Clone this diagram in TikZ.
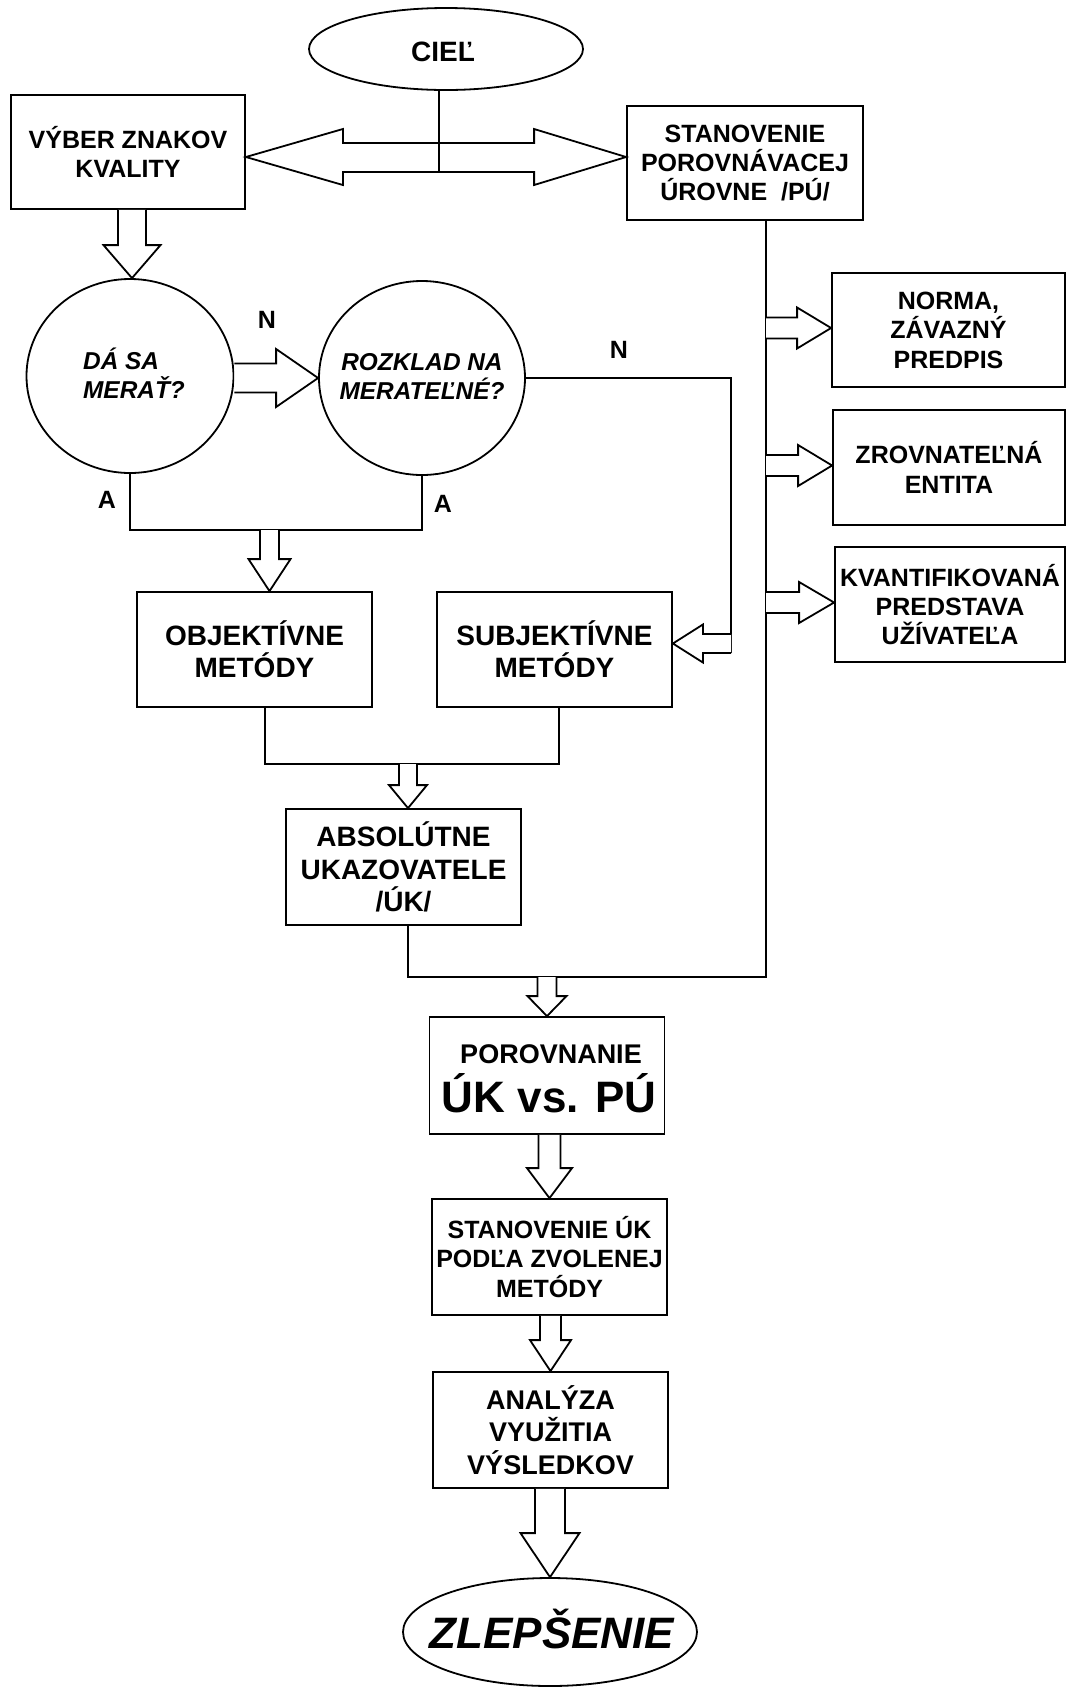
\documentclass[tikz,border=0pt]{standalone}
\usepackage{fontspec}
\setmainfont{Liberation Sans}
\usetikzlibrary{shapes.geometric,calc}

\tikzset{
  box/.style={draw, line width=0.9pt, fill=white, inner sep=0pt, align=center,
    minimum width=117.5pt, minimum height=57.5pt,
    font=\fontsize{12.5}{14.7}\selectfont\bfseries},
  bigbox/.style={box, font=\fontsize{14}{16.2}\selectfont\bfseries},
  oval/.style={draw, ellipse, line width=0.9pt, inner sep=0pt},
  qtext/.style={inner sep=0pt, font=\fontsize{12.2}{14.5}\selectfont\bfseries\itshape},
  wire/.style={line width=0.9pt},
  blk/.style={draw, fill=white, line width=0.9pt, line join=miter},
  lbl/.style={inner sep=0pt, font=\fontsize{12.5}{14}\selectfont\bfseries},
}

% hollow block arrows: #1 start, #2 tip, #3 shaft half width, #4 head half width, #5 head length
\newcommand\blockdown[5]{\draw[blk] let \p1=#1, \p2=#2 in
  (\x2-#3,\y1) -- (\x2-#3,\y2+#5) -- (\x2-#4,\y2+#5) -- (\x2,\y2)
  -- (\x2+#4,\y2+#5) -- (\x2+#3,\y2+#5) -- (\x2+#3,\y1);}
\newcommand\blockright[5]{\draw[blk] let \p1=#1, \p2=#2 in
  (\x1,\y2+#3) -- (\x2-#5,\y2+#3) -- (\x2-#5,\y2+#4) -- (\x2,\y2)
  -- (\x2-#5,\y2-#4) -- (\x2-#5,\y2-#3) -- (\x1,\y2-#3);}
\newcommand\blockleft[5]{\draw[blk] let \p1=#1, \p2=#2 in
  (\x1,\y2+#3) -- (\x2+#5,\y2+#3) -- (\x2+#5,\y2+#4) -- (\x2,\y2)
  -- (\x2+#5,\y2-#4) -- (\x2+#5,\y2-#3) -- (\x1,\y2-#3);}

\begin{document}
\begin{tikzpicture}[x=0.5pt,y=-0.5pt]
\useasboundingbox (0,0) rectangle (1067,1688);

% ---------- nodes ----------
\node[oval, minimum width=137pt, minimum height=41pt] (ciel) at (446,49) {};
\node[lbl, anchor=base, font=\fontsize{14}{16}\selectfont\bfseries] (cieltext) at (443,61) {CIEĽ};

\node[box, minimum width=117pt, minimum height=57pt] (vyber) at (128,152) {VÝBER ZNAKOV\\KVALITY};
\node[box, minimum width=118pt, minimum height=57pt] (stan) at (745,163) {STANOVENIE\\POROVNÁVACEJ\\ÚROVNE\ \ /PÚ/};

\node[box, minimum width=116.5pt, minimum height=57pt] (norma) at (948.5,330) {NORMA,\\ZÁVAZNÝ\\PREDPIS};
\node[box, minimum width=116pt] (zrov) at (949,467.5) {ZROVNATEĽNÁ\\ENTITA};
\node[box, minimum width=115pt] (kvant) at (950,604.5) {KVANTIFIKOVANÁ\\PREDSTAVA\\UŽÍVATEĽA};

\node[oval, minimum width=103.5pt, minimum height=97pt] (c1) at (130,376) {};
\node[qtext, align=left] (c1text) at ($(c1)+(4,-3)$) {DÁ SA\\MERAŤ?};
\node[oval, minimum width=103pt, minimum height=97pt] (c2) at (422,378) {};
\node[qtext, align=center] (c2text) at ($(c2)+(0,-2)$) {ROZKLAD NA\\MERATEĽNÉ?};

\node[bigbox] (obj) at (254.5,649.5) {OBJEKTÍVNE\\METÓDY};
\node[bigbox] (subj) at (554.5,649.5) {SUBJEKTÍVNE\\METÓDY};
\node[bigbox, minimum height=58pt] (abs) at (403.5,867) {ABSOLÚTNE\\UKAZOVATELE\\/ÚK/};

\node[box, minimum height=58.5pt] (porov) at (547,1075.5) {};
\node[lbl, anchor=base, font=\fontsize{13.5}{15}\selectfont\bfseries] (porovtop) at (551,1063) {POROVNANIE};
\node[lbl, anchor=base, font=\fontsize{22}{24}\selectfont\bfseries] (porovbig) at (549,1112) {ÚK vs. PÚ};

\node[box, minimum height=58pt] (stanuk) at (549.5,1257) {STANOVENIE ÚK\\PODĽA ZVOLENEJ\\METÓDY};
\node[box, minimum height=58pt, font=\fontsize{13.5}{16.3}\selectfont\bfseries] (analyza) at (550.5,1430) {ANALÝZA\\VYUŽITIA\\VÝSLEDKOV};

\node[oval, minimum width=147pt, minimum height=54pt] (zlep) at (550,1632) {};
\node[lbl, anchor=base, font=\fontsize{22}{24}\selectfont\bfseries\itshape] (zleptext) at (552,1648) {ZLEPŠENIE};

\node[lbl] (n1) at (267,320) {N};
\node[lbl] (n2) at (619,350) {N};
\node[lbl] (a1) at (107,500) {A};
\node[lbl] (a2) at (443,504) {A};

% ---------- helper coordinates ----------
\coordinate (ymid) at (0,157);
\coordinate (ybot) at (0,172);
\coordinate (dl) at (vyber.east |- ymid);
\coordinate (dr) at (stan.west |- ymid);
\coordinate (cieldrop) at ($(ciel.south)+(-7,0)$);
\coordinate (jA) at (0,530);
\coordinate (nx) at (731,376);
\coordinate (ntip) at ($(subj.east)+(0,-6)$);
\coordinate (nlow) at ($(ntip)+(0,9.5)$);
\coordinate (jB) at (0,764);
\coordinate (objdrop) at ($(obj.south)+(10.5,0)$);
\coordinate (subjdrop) at ($(subj.south)+(4.5,0)$);
\coordinate (absdrop) at ($(abs.south)+(4.5,0)$);
\coordinate (trunk) at ($(stan.south)+(21,0)$);
\coordinate (jC) at (0,977);

% ---------- goal splits both ways ----------
\draw[blk] let \p1=(dl), \p2=(dr) in
  (\x1,\y1) -- (\x1+48.5pt,\y1+14pt) -- (\x1+48.5pt,\y1+7pt)
  -- (\x2-46pt,\y1+7pt) -- (\x2-46pt,\y1+14pt) -- (\x2,\y1)
  -- (\x2-46pt,\y1-14pt) -- (\x2-46pt,\y1-7.5pt)
  -- (\x1+48.5pt,\y1-7.5pt) -- (\x1+48.5pt,\y1-14pt) -- cycle;
\draw[wire] (cieldrop) -- (cieldrop |- ybot);

% ---------- measurability decision ----------
\blockdown{(vyber.south)}{($(c1.north)+(2,0)$)}{7pt}{14.25pt}{16.5pt}
\blockright{(c1.east)}{(c2.west)}{7.25pt}{14.5pt}{21pt}
\draw[wire] (c1.south) -- (c1.south |- jA) -- (c2.south |- jA) -- (c2.south);
\blockdown{(jA)}{($(obj.north)+(15,0)$)}{4.75pt}{10.5pt}{16pt}

\draw[wire] (c2.east) -- (c2.east -| nx) -- (nx |- nlow);
\blockleft{(nx)}{(ntip)}{4.75pt}{9.5pt}{15pt}

% ---------- methods to absolute indicators ----------
\draw[wire] (objdrop) -- (objdrop |- jB) -- (subjdrop |- jB) -- (subjdrop);
\blockdown{(jB)}{($(abs.north)+(4.5,0)$)}{4.5pt}{9.5pt}{11.5pt}

% ---------- comparison level branch ----------
\draw[wire] (trunk) -- (trunk |- jC) -- (absdrop |- jC) -- (absdrop);
\blockright{(trunk)}{($(norma.west)+(0,-2)$)}{5.25pt}{10.25pt}{17pt}
\blockright{(trunk)}{($(zrov.west)+(0,-2)$)}{5.25pt}{10.25pt}{17pt}
\blockright{(trunk)}{($(kvant.west)+(0,-2)$)}{5.25pt}{10.25pt}{17.5pt}

% ---------- final chain ----------
\blockdown{(jC)}{(porov.north)}{4.75pt}{9.75pt}{10pt}
\blockdown{(porov.south)}{(stanuk.north)}{5.5pt}{11.25pt}{15pt}
\blockdown{(stanuk.south)}{(analyza.north)}{5.25pt}{10.25pt}{15.5pt}
\blockdown{(analyza.south)}{(zlep.north)}{7.5pt}{14.75pt}{22pt}

\end{tikzpicture}
\end{document}
